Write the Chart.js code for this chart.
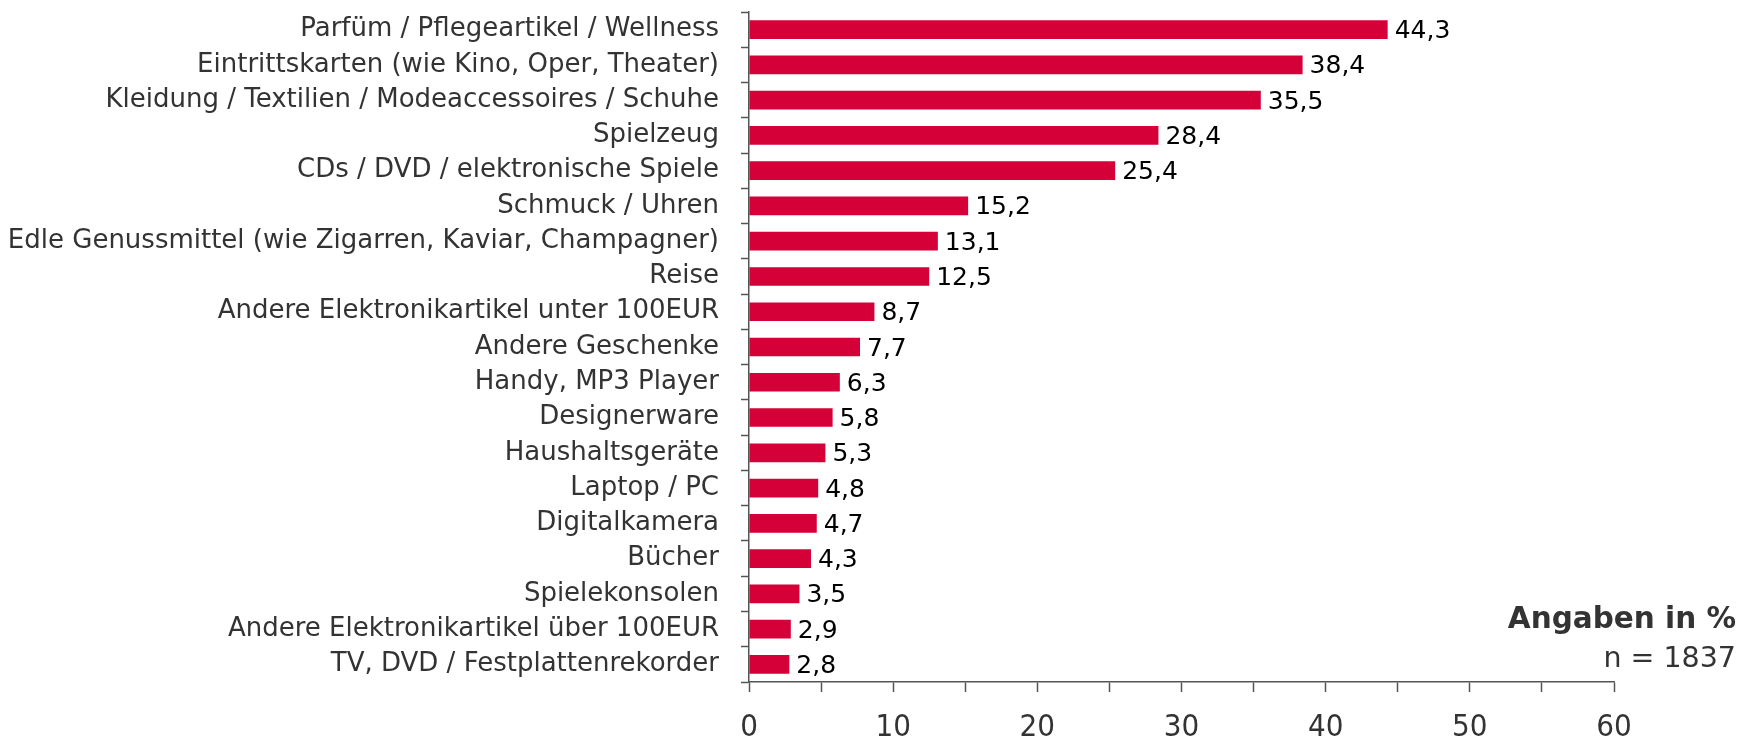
<!DOCTYPE html>
<html>
<head>
<meta charset="utf-8">
<script src="https://cdn.jsdelivr.net/npm/chart.js@4/dist/chart.umd.min.js"></script>
<style>
  html, body { margin: 0; padding: 0; background: #fff; }
  #wrap { width: 1749px; height: 740px; position: relative; }
</style>
</head>
<body>
<div id="wrap"><canvas id="c" width="1749" height="740"></canvas></div>
<script>
const categories = [
  "Parfüm / Pflegeartikel / Wellness",
  "Eintrittskarten (wie Kino, Oper, Theater)",
  "Kleidung / Textilien / Modeaccessoires / Schuhe",
  "Spielzeug",
  "CDs / DVD / elektronische Spiele",
  "Schmuck / Uhren",
  "Edle Genussmittel (wie Zigarren, Kaviar, Champagner)",
  "Reise",
  "Andere Elektronikartikel unter 100EUR",
  "Andere Geschenke",
  "Handy, MP3 Player",
  "Designerware",
  "Haushaltsgeräte",
  "Laptop / PC",
  "Digitalkamera",
  "Bücher",
  "Spielekonsolen",
  "Andere Elektronikartikel über 100EUR",
  "TV, DVD / Festplattenrekorder"
];
const values = [44.3, 38.4, 35.5, 28.4, 25.4, 15.2, 13.1, 12.5, 8.7, 7.7, 6.3, 5.8, 5.3, 4.8, 4.7, 4.3, 3.5, 2.9, 2.8];
const xTickValues = [0, 10, 20, 30, 40, 50, 60];
const noteTitle = "Angaben in %";
const noteSample = "n = 1837";

const FONT = "'DejaVu Sans', Verdana, sans-serif";
const TICK_FONT = "'DejaVu Sans Condensed', 'DejaVu Sans', sans-serif";
const BAR_COLOR = "#D50037";
const TEXT_COLOR = "#333333";
const AXIS_COLOR = "#555555";

const valueLabels = {
  id: 'valueLabels',
  afterDatasetsDraw(chart) {
    const ctx = chart.ctx;
    const meta = chart.getDatasetMeta(0);
    ctx.save();
    ctx.font = "25px " + FONT;
    ctx.fillStyle = "#000";
    ctx.textAlign = "left";
    ctx.textBaseline = "middle";
    meta.data.forEach((bar, i) => {
      const txt = values[i].toFixed(1).replace('.', ',');
      ctx.fillText(txt, bar.x + 7, bar.y + 2);
    });
    ctx.restore();
  }
};

const notes = {
  id: 'notes',
  afterDraw(chart) {
    const ctx = chart.ctx;
    ctx.save();
    ctx.fillStyle = TEXT_COLOR;
    ctx.textAlign = "right";
    ctx.textBaseline = "middle";
    ctx.font = "bold 29.5px " + FONT;
    ctx.fillText(noteTitle, 1736, 620);
    ctx.font = "28.5px " + FONT;
    ctx.fillText(noteSample, 1736, 660);
    ctx.restore();
  }
};

new Chart(document.getElementById('c'), {
  type: 'bar',
  data: {
    labels: categories,
    datasets: [{
      data: values,
      backgroundColor: BAR_COLOR,
      borderWidth: 0,
      categoryPercentage: 1.0,
      barPercentage: 0.53
    }]
  },
  options: {
    indexAxis: 'y',
    responsive: false,
    animation: false,
    devicePixelRatio: 1,
    layout: { padding: { top: 12, right: 135, left: 0, bottom: 0 } },
    plugins: { legend: { display: false }, tooltip: { enabled: false } },
    scales: {
      x: {
        min: 0,
        max: 60,
        afterBuildTicks(scale) {
          const t = [];
          for (let v = 0; v <= 60; v += 5) t.push({ value: v });
          scale.ticks = t;
        },
        afterFit(scale) {
          scale.height = 58;
          scale.paddingLeft = 0;
          scale.paddingRight = 0;
        },
        ticks: {
          autoSkip: false,
          maxRotation: 0,
          padding: 17,
          color: TEXT_COLOR,
          font: { family: TICK_FONT, size: 31 },
          callback: (v) => xTickValues.includes(v) ? String(v) : ''
        },
        grid: {
          drawOnChartArea: false,
          drawTicks: true,
          tickLength: 10,
          tickColor: AXIS_COLOR,
          tickWidth: 1.5
        },
        border: { display: true, color: AXIS_COLOR, width: 1.5 }
      },
      y: {
        afterFit(scale) {
          scale.width = 749;
          scale.paddingTop = 0;
          scale.paddingBottom = 0;
        },
        ticks: {
          autoSkip: false,
          padding: 22,
          color: TEXT_COLOR,
          font: { family: FONT, size: 26 }
        },
        grid: {
          offset: true,
          drawOnChartArea: false,
          drawTicks: true,
          tickLength: 8,
          tickColor: AXIS_COLOR,
          tickWidth: 1.5
        },
        border: { display: true, color: AXIS_COLOR, width: 1.5 }
      }
    }
  },
  plugins: [valueLabels, notes]
});
</script>
</body>
</html>
